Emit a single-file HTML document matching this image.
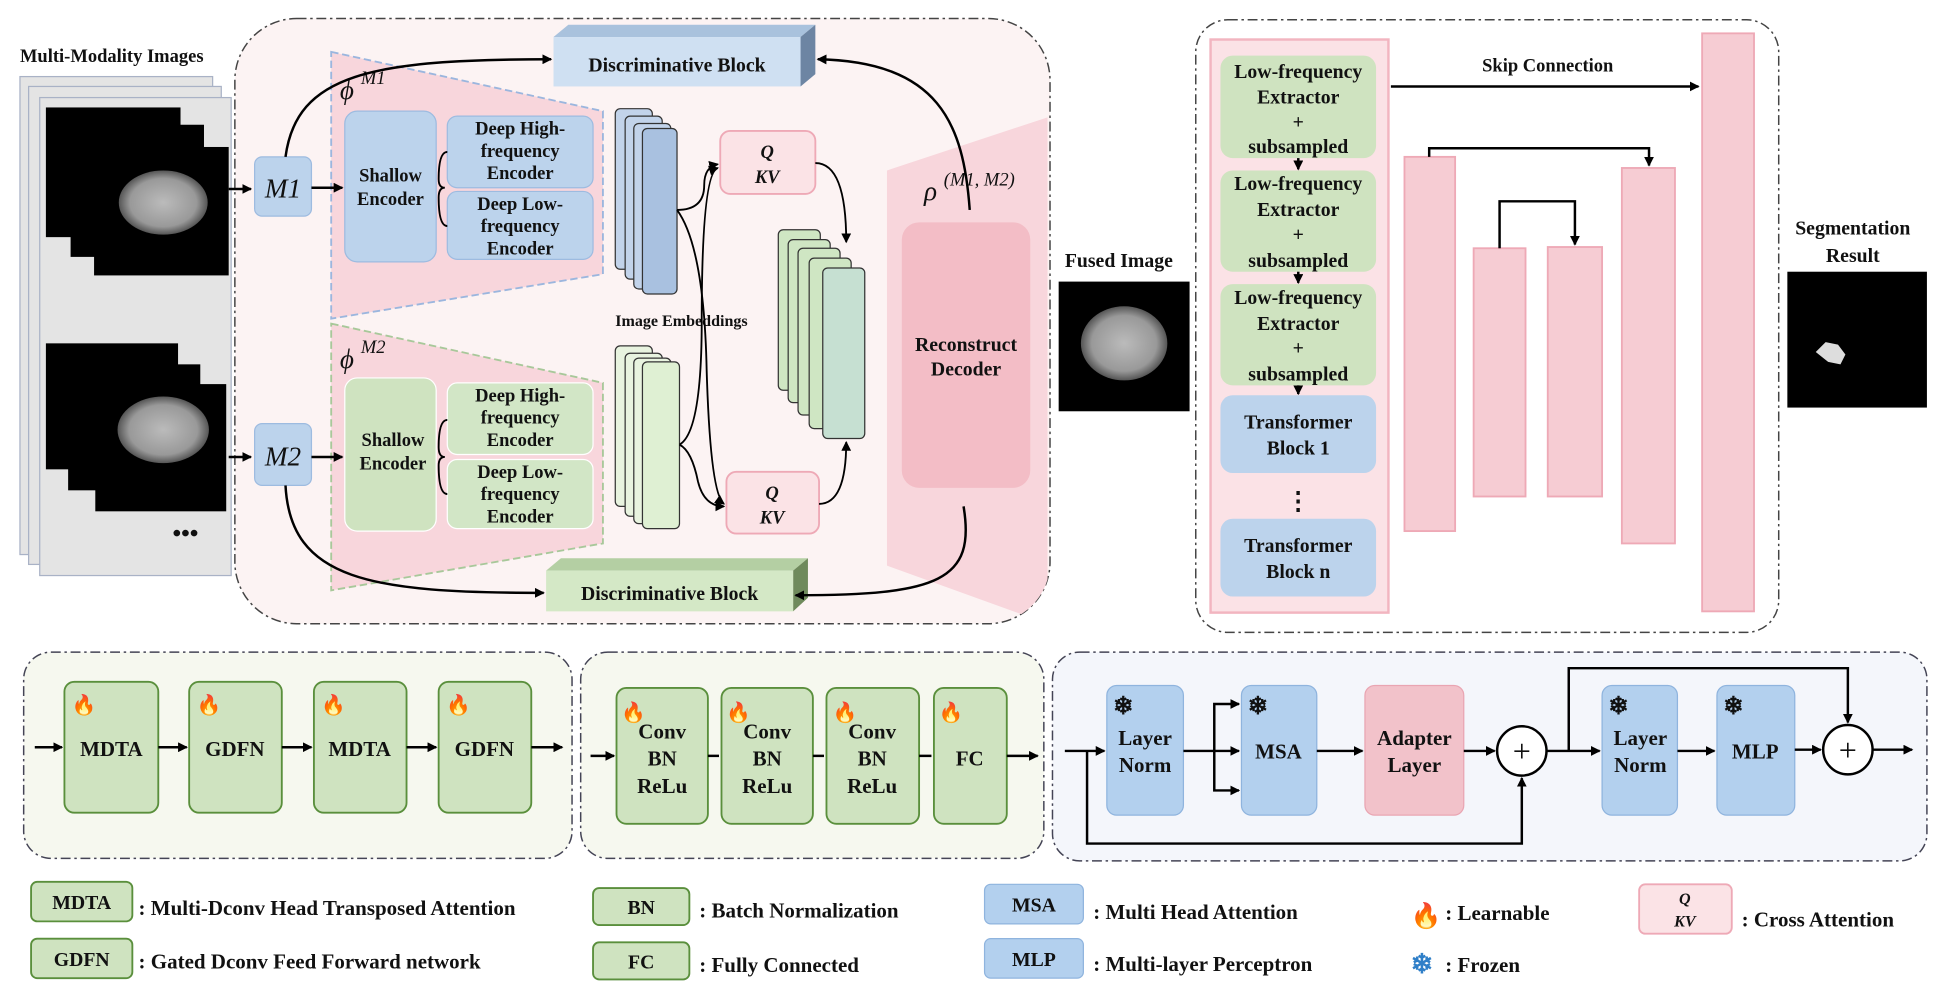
<!DOCTYPE html>
<html><head><meta charset="utf-8"><style>
html,body{margin:0;padding:0;background:#fff;}
svg{display:block;}
text{font-family:"Liberation Serif",serif;font-weight:bold;fill:#111;}
</style></head><body>
<svg width="1937" height="993" viewBox="0 0 1568 804" xmlns="http://www.w3.org/2000/svg">
<defs>
<marker id="a" markerWidth="8" markerHeight="8" refX="7" refY="4" orient="auto" markerUnits="userSpaceOnUse"><path d="M0,0 L8,4 L0,8 z" fill="#000"/></marker>
<radialGradient id="brain" cx="50%" cy="50%" r="50%"><stop offset="0" stop-color="#bbb"/><stop offset="0.75" stop-color="#999"/><stop offset="1" stop-color="#555"/></radialGradient>
<clipPath id="cp"><rect x="190" y="15" width="660" height="490" rx="50"/></clipPath>
</defs>
<style>
.g{fill:#cfe3c0;stroke:#5a8f3c;stroke-width:1.5}
.gl{fill:#d2e6c6;stroke:#fff;stroke-width:1}
.b{fill:#bcd3ec;stroke:#9dbbe0;stroke-width:1}
.p{fill:#f6ccd3;stroke:#eea9b6;stroke-width:1.5}
.t{font-size:16px;text-anchor:middle}
.s{font-size:15px;text-anchor:middle}
.l{stroke:#000;stroke-width:2;fill:none}
</style>

<!-- Multi-modality images -->
<text x="16" y="50" style="font-size:15px">Multi-Modality Images</text>
<g fill="#e4e4e4" stroke="#a9b2c6" stroke-width="1">
<rect x="16" y="62" width="156" height="387"/>
<rect x="23" y="70" width="156" height="387"/>
<rect x="32" y="79" width="155" height="387"/>
</g>
<rect x="37" y="87" width="109" height="105" fill="#000"/>
<rect x="57" y="101" width="108" height="107" fill="#000"/>
<rect x="76" y="119" width="109" height="104" fill="#000"/>
<ellipse cx="132" cy="164" rx="36" ry="26" fill="url(#brain)"/>
<rect x="37" y="278" width="107" height="102" fill="#000"/>
<rect x="55" y="295" width="107" height="102" fill="#000"/>
<rect x="77" y="311" width="106" height="103" fill="#000"/>
<ellipse cx="132" cy="348" rx="37" ry="27" fill="url(#brain)"/>
<text x="150" y="438" style="font-size:20px" text-anchor="middle">•••</text>

<!-- Big left panel -->
<rect x="190" y="15" width="660" height="490" rx="50" fill="#fcf3f3" stroke="#444" stroke-width="1.2" stroke-dasharray="8,3,2,3"/>

<!-- trapezoids -->
<polygon points="268,42 488,90 488,222 268,258" fill="#f8d6dc" stroke="#9bb6de" stroke-width="1.5" stroke-dasharray="6,3"/>
<polygon points="268,262 488,310 488,440 268,478" fill="#f8d6dc" stroke="#a8c89a" stroke-width="1.5" stroke-dasharray="6,3"/>
<polygon points="718,138 848,95 848,505 718,458" fill="#f8d6dc" clip-path="url(#cp)"/>
<text x="275" y="80" style="font-size:22px;font-weight:normal;font-style:italic">ϕ</text><text x="292" y="68" style="font-size:15px;font-weight:normal;font-style:italic">M1</text>
<text x="275" y="298" style="font-size:22px;font-weight:normal;font-style:italic">ϕ</text><text x="292" y="286" style="font-size:15px;font-weight:normal;font-style:italic">M2</text>
<text x="748" y="162" style="font-size:22px;font-weight:normal;font-style:italic">ρ</text><text x="764" y="150" style="font-size:15px;font-weight:normal;font-style:italic">(M1, M2)</text>

<!-- Discriminative blocks -->
<polygon points="448,30 460,20 660,20 648,30" fill="#a9c2dd"/>
<polygon points="648,30 660,20 660,60 648,70" fill="#6d85a3"/>
<rect x="448" y="30" width="200" height="40" fill="#cfe0f2"/>
<text x="548" y="58" class="t">Discriminative Block</text>
<polygon points="442,462 454,452 654,452 642,462" fill="#b4cfa3"/>
<polygon points="642,462 654,452 654,484 642,495" fill="#6f8a5c"/>
<rect x="442" y="462" width="200" height="33" fill="#d4e8c6"/>
<text x="542" y="486" class="t">Discriminative Block</text>

<!-- M1 M2 -->
<rect x="206" y="127" width="46" height="48" rx="6" class="b"/>
<text x="229" y="160" style="font-size:22px;font-weight:normal;font-style:italic" text-anchor="middle">M1</text>
<rect x="206" y="343" width="46" height="50" rx="6" class="b"/>
<text x="229" y="377" style="font-size:22px;font-weight:normal;font-style:italic" text-anchor="middle">M2</text>

<!-- encoders -->
<rect x="279" y="90" width="74" height="122" rx="10" class="b"/>
<text x="316" y="147" class="s">Shallow</text><text x="316" y="166" class="s">Encoder</text>
<rect x="362" y="94" width="118" height="58" rx="8" class="b"/>
<text x="421" y="109" class="s">Deep High-</text><text x="421" y="127" class="s">frequency</text><text x="421" y="145" class="s">Encoder</text>
<rect x="362" y="155" width="118" height="55" rx="8" class="b"/>
<text x="421" y="170" class="s">Deep Low-</text><text x="421" y="188" class="s">frequency</text><text x="421" y="206" class="s">Encoder</text>

<rect x="279" y="306" width="74" height="124" rx="10" class="gl" style="fill:#cfe3c0"/>
<text x="318" y="361" class="s">Shallow</text><text x="318" y="380" class="s">Encoder</text>
<rect x="362" y="310" width="118" height="58" rx="8" class="gl"/>
<text x="421" y="325" class="s">Deep High-</text><text x="421" y="343" class="s">frequency</text><text x="421" y="361" class="s">Encoder</text>
<rect x="362" y="372" width="118" height="56" rx="8" class="gl"/>
<text x="421" y="387" class="s">Deep Low-</text><text x="421" y="405" class="s">frequency</text><text x="421" y="423" class="s">Encoder</text>

<!-- embeddings -->
<g stroke="#333" stroke-width="1" fill="#c2d3ea">
<rect x="498" y="88" width="30" height="130" rx="4"/>
<rect x="506" y="94" width="30" height="132" rx="4"/>
<rect x="513" y="100" width="30" height="134" rx="4"/>
<rect x="520" y="104" width="28" height="134" rx="4" fill="#a9c1e0"/>
</g>
<g stroke="#333" stroke-width="1" fill="#e8f3df">
<rect x="498" y="280" width="30" height="130" rx="4"/>
<rect x="506" y="286" width="30" height="132" rx="4"/>
<rect x="513" y="290" width="30" height="134" rx="4"/>
<rect x="520" y="293" width="30" height="135" rx="4" fill="#dff0d3"/>
</g>
<text x="498" y="264" style="font-size:13px">Image Embeddings</text>
<g stroke="#333" stroke-width="1" fill="#cfe6c3">
<rect x="630" y="186" width="34" height="130" rx="4"/>
<rect x="638" y="194" width="34" height="132" rx="4"/>
<rect x="646" y="201" width="34" height="135" rx="4"/>
<rect x="655" y="209" width="34" height="138" rx="4"/>
<rect x="666" y="217" width="34" height="138" rx="4" fill="#c6e0d2"/>
</g>

<!-- QKV -->
<rect x="583" y="106" width="77" height="51" rx="8" class="p" style="fill:#fbe3e6"/>
<text x="621" y="128" style="font-size:15px;font-style:italic" text-anchor="middle">Q</text><text x="621" y="148" style="font-size:15px;font-style:italic" text-anchor="middle">KV</text>
<rect x="588" y="382" width="75" height="50" rx="8" class="p" style="fill:#fbe3e6"/>
<text x="625" y="404" style="font-size:15px;font-style:italic" text-anchor="middle">Q</text><text x="625" y="424" style="font-size:15px;font-style:italic" text-anchor="middle">KV</text>

<!-- Reconstruct -->
<rect x="730" y="180" width="104" height="215" rx="14" fill="#f3bdc6"/>
<text x="782" y="284" class="t">Reconstruct</text><text x="782" y="304" class="t">Decoder</text>

<!-- connectors left -->
<g class="l">
<line x1="185" y1="153" x2="203" y2="153" marker-end="url(#a)"/>
<line x1="185" y1="370" x2="203" y2="370" marker-end="url(#a)"/>
<line x1="252" y1="152" x2="277" y2="152" marker-end="url(#a)"/>
<line x1="252" y1="370" x2="277" y2="370" marker-end="url(#a)"/>
<path d="M231,127 C240,60 300,48 446,48" marker-end="url(#a)"/>
<path d="M231,393 C235,470 300,480 440,480" marker-end="url(#a)"/>
<path d="M362,123 Q355,123 355,145 Q355,152 360,152 Q355,152 355,160 Q355,183 362,183" stroke-width="1.5"/>
<path d="M362,340 Q355,340 355,362 Q355,370 360,370 Q355,370 355,377 Q355,400 362,400" stroke-width="1.5"/>
<path d="M785,170 C780,100 760,50 662,48" marker-end="url(#a)"/>
<path d="M780,410 C790,470 760,482 644,482" marker-end="url(#a)"/>
<path d="M548,170 Q570,170 570,150 Q570,135 581,133" stroke-width="1.5" marker-end="url(#a)"/>
<path d="M548,170 Q570,200 572,300 Q575,400 586,408" stroke-width="1.5" marker-end="url(#a)"/>
<path d="M550,360 Q568,350 568,260 Q568,140 581,136" stroke-width="1.5" marker-end="url(#a)"/>
<path d="M550,360 Q560,365 565,390 Q570,410 586,410" stroke-width="1.5" marker-end="url(#a)"/>
<path d="M660,132 Q685,132 685,196" stroke-width="1.5" marker-end="url(#a)"/>
<path d="M663,408 Q685,408 685,358" stroke-width="1.5" marker-end="url(#a)"/>
</g>

<!-- Fused -->
<text x="862" y="216" style="font-size:16px">Fused Image</text>
<rect x="857" y="228" width="106" height="105" fill="#000"/>
<ellipse cx="910" cy="278" rx="35" ry="30" fill="url(#brain)"/>

<!-- right panel -->
<rect x="968" y="16" width="472" height="496" rx="26" fill="#fff" stroke="#444" stroke-width="1.2" stroke-dasharray="8,3,2,3"/>
<rect x="980" y="32" width="144" height="464" fill="#fbe2e6" stroke="#f2b5c0" stroke-width="2"/>
<g>
<rect x="988" y="45" width="126" height="83" rx="10" fill="#cfe3c0"/>
<text x="1051" y="63" class="t">Low-frequency</text><text x="1051" y="84" class="t">Extractor</text><text x="1051" y="104" class="t">+</text><text x="1051" y="124" class="t">subsampled</text>
<rect x="988" y="138" width="126" height="82" rx="10" fill="#cfe3c0"/>
<text x="1051" y="154" class="t">Low-frequency</text><text x="1051" y="175" class="t">Extractor</text><text x="1051" y="195" class="t">+</text><text x="1051" y="216" class="t">subsampled</text>
<rect x="988" y="230" width="126" height="82" rx="10" fill="#cfe3c0"/>
<text x="1051" y="246" class="t">Low-frequency</text><text x="1051" y="267" class="t">Extractor</text><text x="1051" y="287" class="t">+</text><text x="1051" y="308" class="t">subsampled</text>
<rect x="988" y="320" width="126" height="63" rx="10" fill="#bcd3ec"/>
<text x="1051" y="347" class="t">Transformer</text><text x="1051" y="368" class="t">Block 1</text>
<text x="1051" y="412" class="t" style="font-size:20px">⋮</text>
<rect x="988" y="420" width="126" height="63" rx="10" fill="#bcd3ec"/>
<text x="1051" y="447" class="t">Transformer</text><text x="1051" y="468" class="t">Block n</text>
</g>
<g class="l" stroke-width="1.2">
<line x1="1051" y1="128" x2="1051" y2="137" marker-end="url(#a)"/>
<line x1="1051" y1="220" x2="1051" y2="229" marker-end="url(#a)"/>
<line x1="1051" y1="312" x2="1051" y2="319" marker-end="url(#a)"/>
</g>
<g class="p">
<rect x="1378" y="27" width="42" height="468"/>
<rect x="1137" y="127" width="41" height="303"/>
<rect x="1193" y="201" width="42" height="201"/>
<rect x="1253" y="200" width="44" height="202"/>
<rect x="1313" y="136" width="43" height="304"/>
</g>
<text x="1253" y="58" class="t" style="font-size:15px">Skip Connection</text>
<g class="l">
<line x1="1126" y1="70" x2="1375" y2="70" marker-end="url(#a)"/>
<path d="M1157,127 V120 H1335 V134" marker-end="url(#a)"/>
<path d="M1214,201 V163 H1275 V198" marker-end="url(#a)"/>
</g>

<text x="1500" y="190" class="t">Segmentation</text><text x="1500" y="212" class="t">Result</text>
<rect x="1447" y="220" width="113" height="110" fill="#000"/>
<path d="M1470,285 l8,-8 l10,2 l6,8 l-4,8 l-10,-2 z" fill="#ddd"/>

<!-- bottom panels -->
<rect x="19" y="528" width="444" height="167" rx="22" fill="#f6f8ef" stroke="#445" stroke-width="1.2" stroke-dasharray="8,3,2,3"/>
<rect x="470" y="528" width="375" height="167" rx="22" fill="#f6f8ef" stroke="#445" stroke-width="1.2" stroke-dasharray="8,3,2,3"/>
<rect x="852" y="528" width="708" height="169" rx="22" fill="#f4f6fb" stroke="#445" stroke-width="1.2" stroke-dasharray="8,3,2,3"/>

<g class="g">
<rect x="52" y="552" width="76" height="106" rx="8"/>
<rect x="153" y="552" width="75" height="106" rx="8"/>
<rect x="254" y="552" width="75" height="106" rx="8"/>
<rect x="355" y="552" width="75" height="106" rx="8"/>
<rect x="499" y="557" width="74" height="110" rx="8"/>
<rect x="584" y="557" width="74" height="110" rx="8"/>
<rect x="669" y="557" width="75" height="110" rx="8"/>
<rect x="756" y="557" width="59" height="110" rx="8"/>
</g>
<text x="90" y="612" class="t" style="font-size:17px">MDTA</text>
<text x="190" y="612" class="t" style="font-size:17px">GDFN</text>
<text x="291" y="612" class="t" style="font-size:17px">MDTA</text>
<text x="392" y="612" class="t" style="font-size:17px">GDFN</text>
<text x="536" y="598" class="t" style="font-size:17px">Conv</text><text x="536" y="620" class="t" style="font-size:17px">BN</text><text x="536" y="642" class="t" style="font-size:17px">ReLu</text>
<text x="621" y="598" class="t" style="font-size:17px">Conv</text><text x="621" y="620" class="t" style="font-size:17px">BN</text><text x="621" y="642" class="t" style="font-size:17px">ReLu</text>
<text x="706" y="598" class="t" style="font-size:17px">Conv</text><text x="706" y="620" class="t" style="font-size:17px">BN</text><text x="706" y="642" class="t" style="font-size:17px">ReLu</text>
<text x="785" y="620" class="t" style="font-size:17px">FC</text>
<g style="font-size:16px;fill:#e8501c">
<text x="58" y="576">🔥</text><text x="159" y="576">🔥</text><text x="260" y="576">🔥</text><text x="361" y="576">🔥</text>
<text x="503" y="582">🔥</text><text x="588" y="582">🔥</text><text x="674" y="582">🔥</text><text x="760" y="582">🔥</text>
<text x="1110" y="578">🔥</text>
</g>
<g class="l">
<line x1="28" y1="605" x2="50" y2="605" marker-end="url(#a)"/>
<line x1="128" y1="605" x2="151" y2="605" marker-end="url(#a)"/>
<line x1="228" y1="605" x2="252" y2="605" marker-end="url(#a)"/>
<line x1="329" y1="605" x2="353" y2="605" marker-end="url(#a)"/>
<line x1="430" y1="605" x2="455" y2="605" marker-end="url(#a)"/>
<line x1="478" y1="612" x2="497" y2="612" marker-end="url(#a)"/>
<line x1="573" y1="612" x2="582" y2="612"/>
<line x1="658" y1="612" x2="667" y2="612"/>
<line x1="744" y1="612" x2="754" y2="612"/>
<line x1="815" y1="612" x2="840" y2="612" marker-end="url(#a)"/>
</g>

<!-- transformer detail -->
<g class="b" style="fill:#b3d0ee;stroke:#8fb4de">
<rect x="896" y="555" width="62" height="105" rx="8"/>
<rect x="1005" y="555" width="61" height="105" rx="8"/>
<rect x="1297" y="555" width="61" height="105" rx="8"/>
<rect x="1390" y="555" width="63" height="105" rx="8"/>
</g>
<rect x="1105" y="555" width="80" height="105" rx="8" fill="#f2c2ca" stroke="#e9a5b2" stroke-width="1"/>
<text x="927" y="603" class="t" style="font-size:17px">Layer</text><text x="927" y="625" class="t" style="font-size:17px">Norm</text>
<text x="1035" y="614" class="t" style="font-size:17px">MSA</text>
<text x="1145" y="603" class="t" style="font-size:17px">Adapter</text><text x="1145" y="625" class="t" style="font-size:17px">Layer</text>
<text x="1328" y="603" class="t" style="font-size:17px">Layer</text><text x="1328" y="625" class="t" style="font-size:17px">Norm</text>
<text x="1421" y="614" class="t" style="font-size:17px">MLP</text>
<g style="font-size:20px;fill:#2f7fc8">
<text x="901" y="578">❄</text><text x="1010" y="578">❄</text><text x="1302" y="578">❄</text><text x="1395" y="578">❄</text>
</g>
<circle cx="1232" cy="608" r="20" fill="#fff" stroke="#000" stroke-width="2"/>
<text x="1232" y="617" class="t" style="font-size:26px;font-weight:normal">+</text>
<circle cx="1496" cy="607" r="20" fill="#fff" stroke="#000" stroke-width="2"/>
<text x="1496" y="616" class="t" style="font-size:26px;font-weight:normal">+</text>
<g class="l">
<line x1="862" y1="608" x2="894" y2="608" marker-end="url(#a)"/>
<line x1="958" y1="608" x2="1003" y2="608" marker-end="url(#a)"/>
<path d="M983,608 V570 H1003" marker-end="url(#a)"/>
<path d="M983,608 V640 H1003" marker-end="url(#a)"/>
<line x1="1066" y1="608" x2="1103" y2="608" marker-end="url(#a)"/>
<line x1="1185" y1="608" x2="1210" y2="608" marker-end="url(#a)"/>
<path d="M880,608 V683 H1232 V630" marker-end="url(#a)"/>
<line x1="1252" y1="608" x2="1295" y2="608" marker-end="url(#a)"/>
<path d="M1270,608 V541 H1496 V585" marker-end="url(#a)"/>
<line x1="1358" y1="608" x2="1388" y2="608" marker-end="url(#a)"/>
<line x1="1453" y1="607" x2="1474" y2="607" marker-end="url(#a)"/>
<line x1="1516" y1="607" x2="1548" y2="607" marker-end="url(#a)"/>
</g>

<!-- legend -->
<g class="g">
<rect x="25" y="714" width="82" height="32" rx="5"/>
<rect x="25" y="760" width="82" height="32" rx="5"/>
<rect x="480" y="719" width="78" height="30" rx="5"/>
<rect x="480" y="763" width="78" height="30" rx="5"/>
</g>
<rect x="797" y="716" width="80" height="32" rx="5" fill="#b3d0ee" stroke="#8fb4de"/>
<rect x="797" y="760" width="80" height="32" rx="5" fill="#b3d0ee" stroke="#8fb4de"/>
<rect x="1327" y="716" width="75" height="40" rx="5" fill="#fbe3e6" stroke="#eea9b6" stroke-width="1.5"/>
<text x="66" y="736" class="t">MDTA</text><text x="66" y="782" class="t">GDFN</text>
<text x="519" y="740" class="t">BN</text><text x="519" y="784" class="t">FC</text>
<text x="837" y="738" class="t">MSA</text><text x="837" y="782" class="t">MLP</text>
<text x="1364" y="732" style="font-size:13px;font-style:italic" text-anchor="middle">Q</text><text x="1364" y="750" style="font-size:13px;font-style:italic" text-anchor="middle">KV</text>
<g style="font-size:17px">
<text x="112" y="741">: Multi-Dconv Head Transposed Attention</text>
<text x="112" y="784">: Gated Dconv Feed Forward network</text>
<text x="566" y="743">: Batch Normalization</text>
<text x="566" y="787">: Fully Connected</text>
<text x="885" y="744">: Multi Head Attention</text>
<text x="885" y="786">: Multi-layer Perceptron</text>
<text x="1170" y="745">: Learnable</text>
<text x="1170" y="787">: Frozen</text>
<text x="1410" y="750">: Cross Attention</text>
</g>
<text x="1142" y="748" style="font-size:20px;fill:#e8501c">🔥</text>
<text x="1142" y="788" style="font-size:22px;fill:#2f7fc8">❄</text>
</svg>
</body></html>
